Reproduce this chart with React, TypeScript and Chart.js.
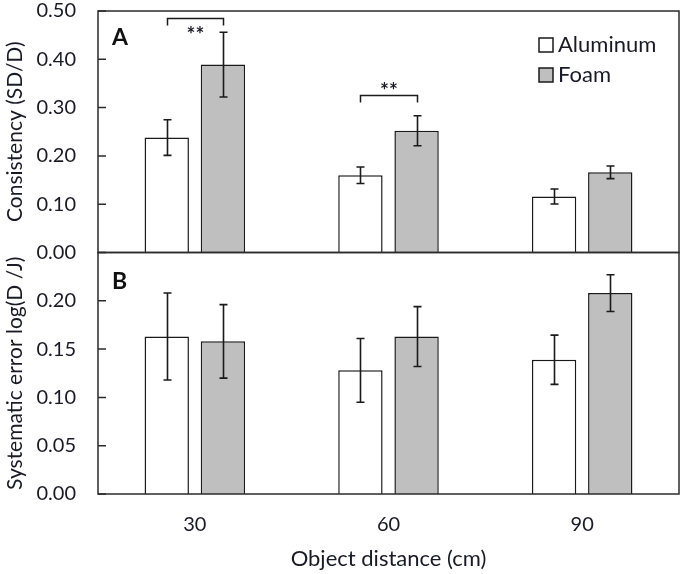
import React, { useEffect, useRef } from 'react';
import { Chart, registerables } from 'chart.js';

Chart.register(...registerables);

// Object distances (cm) on the shared x axis
const distances = ['30', '60', '90'];

// Panel A: consistency (SD/D), mean and standard error
const consistencyAluminum = [0.238, 0.16, 0.116];
const consistencyAluminumErr = [0.037, 0.017, 0.0155];
const consistencyFoam = [0.389, 0.252, 0.166];
const consistencyFoamErr = [0.067, 0.031, 0.013];

// Panel B: systematic error log(D/J), mean and standard error
const systematicAluminum = [0.163, 0.128, 0.139];
const systematicAluminumErr = [0.045, 0.033, 0.0255];
const systematicFoam = [0.158, 0.163, 0.208];
const systematicFoamErr = [0.038, 0.031, 0.019];

// Tick values for each panel
const consistencyTicks = [0, 0.1, 0.2, 0.3, 0.4, 0.5];
const systematicTicks = [0, 0.05, 0.1, 0.15, 0.2];

// Significance brackets in panel A (category index, bracket height, label)
const sigIndex = [0, 1];
const sigHeight = [0.485, 0.327];
const sigLabel = ['**', '**'];

const TEXT = '#1a1a26';
const LINE = '#1a1a1a';
const FONT = 'Lato, "Open Sans", sans-serif';
const WHITE = '#ffffff';
const GREY = '#bfbfbf';

const panelDecor = {
  id: 'panelDecor',
  afterDatasetsDraw(chart: any) {
    const ctx = chart.ctx;
    // error bars
    ctx.save();
    ctx.strokeStyle = LINE;
    ctx.lineWidth = 1.6;
    chart.data.datasets.forEach((ds: any, di: number) => {
      const meta = chart.getDatasetMeta(di);
      const ys = chart.scales[ds.yAxisID];
      meta.data.forEach((bar: any, i: number) => {
        const v = ds.data[i];
        const e = ds.errors[i];
        const yTop = ys.getPixelForValue(v + e);
        const yBot = ys.getPixelForValue(v - e);
        const cx = Math.round(bar.x) + 0.5;
        ctx.beginPath();
        ctx.moveTo(cx, yTop);
        ctx.lineTo(cx, yBot);
        ctx.moveTo(cx - 4, yTop);
        ctx.lineTo(cx + 4, yTop);
        ctx.moveTo(cx - 4, yBot);
        ctx.lineTo(cx + 4, yBot);
        ctx.stroke();
      });
    });
    ctx.restore();
  },
  afterDraw(chart: any) {
    const ctx = chart.ctx;
    const { left, right } = chart.chartArea;
    const yA = chart.scales.yA;
    const yB = chart.scales.yB;

    ctx.save();
    // panel frames and inward tick marks
    ctx.strokeStyle = '#2b2b2b';
    ctx.lineWidth = 1.5;
    [yA, yB].forEach((s: any) => {
      ctx.strokeRect(left, s.top, right - left, s.bottom - s.top);
      ctx.beginPath();
      s.ticks.forEach((t: any) => {
        const y = s.getPixelForValue(t.value);
        ctx.moveTo(left, y);
        ctx.lineTo(left + 8, y);
      });
      ctx.stroke();
    });

    // panel letters
    ctx.fillStyle = '#111111';
    ctx.font = `bold 23px ${FONT}`;
    ctx.textAlign = 'left';
    ctx.textBaseline = 'alphabetic';
    ctx.fillText('A', left + 14, yA.top + 34);
    ctx.fillText('B', left + 14, yB.top + 36);

    // legend
    const lx = right - 140;
    const items = [chart.data.datasets[0], chart.data.datasets[1]];
    items.forEach((ds: any, k: number) => {
      const cy = yA.top + 34 + k * 30;
      ctx.fillStyle = ds.backgroundColor;
      ctx.fillRect(lx, cy - 7, 14, 14);
      ctx.strokeStyle = LINE;
      ctx.lineWidth = 1.5;
      ctx.strokeRect(lx, cy - 7, 14, 14);
      ctx.fillStyle = TEXT;
      ctx.font = `22px ${FONT}`;
      ctx.textBaseline = 'middle';
      ctx.fillText(ds.label, lx + 19, cy);
    });

    // significance brackets
    const m0 = chart.getDatasetMeta(0);
    const m1 = chart.getDatasetMeta(1);
    ctx.strokeStyle = LINE;
    ctx.lineWidth = 1.5;
    ctx.font = `bold 21px ${FONT}`;
    ctx.textAlign = 'center';
    ctx.textBaseline = 'alphabetic';
    sigIndex.forEach((idx, k) => {
      const x0 = Math.round(m0.data[idx].x) + 0.5;
      const x1 = Math.round(m1.data[idx].x) + 0.5;
      const y = Math.round(yA.getPixelForValue(sigHeight[k])) + 0.5;
      ctx.beginPath();
      ctx.moveTo(x0, y + 7);
      ctx.lineTo(x0, y);
      ctx.lineTo(x1, y);
      ctx.lineTo(x1, y + 7);
      ctx.stroke();
      const mt = ctx.measureText(sigLabel[k]);
      const half = (mt.actualBoundingBoxAscent - mt.actualBoundingBoxDescent) / 2;
      const above = y - 20 > yA.top;
      const centre = above ? y - 10 : y + 11;
      ctx.fillStyle = TEXT;
      ctx.fillText(sigLabel[k], (x0 + x1) / 2, centre + half);
    });
    ctx.restore();
  },
};

const tickFont = { family: FONT, size: 20 };
const yTitleFont = { family: FONT, size: 21 };
const xTitleFont = { family: FONT, size: 22 };

export default function App() {
  const ref = useRef<HTMLCanvasElement>(null);

  useEffect(() => {
    const canvas = ref.current;
    if (!canvas) return;
    const chart = new Chart(canvas, {
      type: 'bar',
      data: {
        labels: distances,
        datasets: [
          {
            label: 'Aluminum', data: consistencyAluminum, errors: consistencyAluminumErr,
            yAxisID: 'yA', stack: 'aluminum', backgroundColor: WHITE, borderColor: LINE, borderWidth: 1.5,
          },
          {
            label: 'Foam', data: consistencyFoam, errors: consistencyFoamErr,
            yAxisID: 'yA', stack: 'foam', backgroundColor: GREY, borderColor: LINE, borderWidth: 1.5,
          },
          {
            label: 'Aluminum', data: systematicAluminum, errors: systematicAluminumErr,
            yAxisID: 'yB', stack: 'aluminum', backgroundColor: WHITE, borderColor: LINE, borderWidth: 1.5,
          },
          {
            label: 'Foam', data: systematicFoam, errors: systematicFoamErr,
            yAxisID: 'yB', stack: 'foam', backgroundColor: GREY, borderColor: LINE, borderWidth: 1.5,
          },
        ] as any,
      },
      options: {
        responsive: false,
        animation: false,
        devicePixelRatio: 1,
        layout: { padding: { left: 0, right: 6, top: 11, bottom: 0 } },
        datasets: { bar: { categoryPercentage: 0.58, barPercentage: 0.79 } },
        plugins: {
          legend: { display: false },
          title: { display: false },
          tooltip: { enabled: false },
        },
        scales: {
          x: {
            type: 'category',
            offset: true,
            grid: { display: false, drawTicks: false },
            border: { display: false },
            ticks: { padding: 19, color: TEXT, font: tickFont },
            title: {
              display: true, text: 'Object distance (cm)', color: TEXT,
              font: xTitleFont, padding: { top: 0, bottom: 2 },
            },
            afterFit: (s: any) => { s.height = 80; s.paddingLeft = 0; s.paddingRight = 0; },
          },
          yA: {
            type: 'linear', position: 'left', stack: 'panels', stackWeight: 1, weight: 2,
            min: 0, max: 0.5, stacked: false,
            grid: { display: false, drawTicks: false },
            border: { display: false },
            ticks: { padding: 22, color: TEXT, font: tickFont, callback: (v: any) => Number(v).toFixed(2) },
            afterBuildTicks: (s: any) => { s.ticks = consistencyTicks.map((value) => ({ value })); },
            title: { display: true, text: 'Consistency (SD/D)', color: TEXT, font: yTitleFont, padding: { top: 3, bottom: 0 } },
            afterFit: (s: any) => { s.width = 98; s.paddingTop = 0; s.paddingBottom = 0; },
          },
          yB: {
            type: 'linear', position: 'left', stack: 'panels', stackWeight: 1, weight: 1,
            min: 0, max: 0.25, stacked: false,
            grid: { display: false, drawTicks: false },
            border: { display: false },
            ticks: { padding: 22, color: TEXT, font: tickFont, callback: (v: any) => Number(v).toFixed(2) },
            afterBuildTicks: (s: any) => { s.ticks = systematicTicks.map((value) => ({ value })); },
            title: { display: true, text: 'Systematic error log(D /J)', color: TEXT, font: yTitleFont, padding: { top: 3, bottom: 0 } },
            afterFit: (s: any) => { s.width = 98; s.paddingTop = 0; s.paddingBottom = 0; },
          },
        },
      } as any,
      plugins: [panelDecor],
    });
    return () => chart.destroy();
  }, []);

  return (
    <div style={{ position: 'fixed', left: 0, top: 0, width: 685, height: 574, background: '#ffffff' }}>
      <canvas ref={ref} width={685} height={574} style={{ display: 'block' }} />
    </div>
  );
}
